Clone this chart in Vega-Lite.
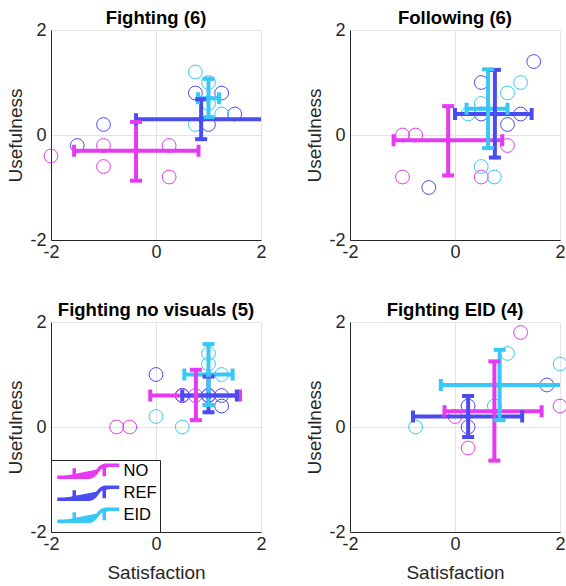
{
  "$schema": "https://vega.github.io/schema/vega-lite/v6.json",
  "padding": {"left": 6, "top": 8, "right": 5, "bottom": 0},
  "config": {
    "font": "Liberation Sans",
    "view": {"stroke": null},
    "legend": {"labelFontSize": 16.5, "labelColor": "#000000", "strokeColor": "#262626", "fillColor": "white", "padding": 3, "symbolType": "M-1,1.2H5.4C7,1.2 7,-1.2 8.6,-1.2H11.4M2.4,-0.6V1.2M8.4,-1.2V1", "symbolSize": 100, "symbolStrokeWidth": 3.5, "labelOffset": 53, "rowPadding": -6, "orient": "bottom-left", "offset": 0, "title": null, "cornerRadius": 0}
  },
  "datasets": {
    "pts": [
      {"panel": "A", "grp": "NO", "sat": -2, "use": -0.4},
      {"panel": "A", "grp": "NO", "sat": -1, "use": -0.2},
      {"panel": "A", "grp": "NO", "sat": -1, "use": -0.6},
      {"panel": "A", "grp": "NO", "sat": 0.25, "use": -0.2},
      {"panel": "A", "grp": "NO", "sat": 0.25, "use": -0.8},
      {"panel": "A", "grp": "REF", "sat": -1.5, "use": -0.2},
      {"panel": "A", "grp": "REF", "sat": -1, "use": 0.2},
      {"panel": "A", "grp": "REF", "sat": 0.75, "use": 0.8},
      {"panel": "A", "grp": "REF", "sat": 1.25, "use": 0.8},
      {"panel": "A", "grp": "REF", "sat": 1.5, "use": 0.4},
      {"panel": "A", "grp": "REF", "sat": 1, "use": 0.2},
      {"panel": "A", "grp": "EID", "sat": 0.75, "use": 1.2},
      {"panel": "A", "grp": "EID", "sat": 0.75, "use": 0.2},
      {"panel": "A", "grp": "EID", "sat": 1.25, "use": 0.4},
      {"panel": "A", "grp": "EID", "sat": 1, "use": 1},
      {"panel": "A", "grp": "EID", "sat": 1, "use": 0.6},
      {"panel": "B", "grp": "NO", "sat": -1, "use": 0},
      {"panel": "B", "grp": "NO", "sat": -0.75, "use": 0},
      {"panel": "B", "grp": "NO", "sat": -1, "use": -0.8},
      {"panel": "B", "grp": "NO", "sat": 0.5, "use": -0.8},
      {"panel": "B", "grp": "NO", "sat": 1, "use": -0.2},
      {"panel": "B", "grp": "REF", "sat": 0.5, "use": 1},
      {"panel": "B", "grp": "REF", "sat": 1.5, "use": 1.4},
      {"panel": "B", "grp": "REF", "sat": 0.5, "use": 0.4},
      {"panel": "B", "grp": "REF", "sat": 1.25, "use": 0.4},
      {"panel": "B", "grp": "REF", "sat": 1, "use": 0.2},
      {"panel": "B", "grp": "REF", "sat": -0.5, "use": -1},
      {"panel": "B", "grp": "EID", "sat": 0.25, "use": 0.4},
      {"panel": "B", "grp": "EID", "sat": 0.5, "use": 0.6},
      {"panel": "B", "grp": "EID", "sat": 1, "use": 0.8},
      {"panel": "B", "grp": "EID", "sat": 1.25, "use": 1},
      {"panel": "B", "grp": "EID", "sat": 0.5, "use": -0.6},
      {"panel": "B", "grp": "EID", "sat": 0.75, "use": -0.8},
      {"panel": "C", "grp": "NO", "sat": -0.75, "use": 0},
      {"panel": "C", "grp": "NO", "sat": -0.5, "use": 0},
      {"panel": "C", "grp": "NO", "sat": 0.5, "use": 0.6},
      {"panel": "C", "grp": "NO", "sat": 0.75, "use": 0.6},
      {"panel": "C", "grp": "NO", "sat": 1, "use": 0.6},
      {"panel": "C", "grp": "REF", "sat": 0, "use": 1},
      {"panel": "C", "grp": "REF", "sat": 0.5, "use": 0.6},
      {"panel": "C", "grp": "REF", "sat": 1, "use": 0.6},
      {"panel": "C", "grp": "REF", "sat": 1.25, "use": 0.6},
      {"panel": "C", "grp": "REF", "sat": 1.25, "use": 0.4},
      {"panel": "C", "grp": "EID", "sat": 1, "use": 1.4},
      {"panel": "C", "grp": "EID", "sat": 1, "use": 1.2},
      {"panel": "C", "grp": "EID", "sat": 1.25, "use": 1},
      {"panel": "C", "grp": "EID", "sat": 0, "use": 0.2},
      {"panel": "C", "grp": "EID", "sat": 0.5, "use": 0},
      {"panel": "D", "grp": "NO", "sat": 1.25, "use": 1.8},
      {"panel": "D", "grp": "NO", "sat": 0, "use": 0.2},
      {"panel": "D", "grp": "NO", "sat": 0.25, "use": -0.4},
      {"panel": "D", "grp": "NO", "sat": 2, "use": 0.4},
      {"panel": "D", "grp": "REF", "sat": 0.25, "use": 0.4},
      {"panel": "D", "grp": "REF", "sat": 0.25, "use": 0},
      {"panel": "D", "grp": "REF", "sat": 1.75, "use": 0.8},
      {"panel": "D", "grp": "EID", "sat": -0.75, "use": 0},
      {"panel": "D", "grp": "EID", "sat": 1, "use": 1.4},
      {"panel": "D", "grp": "EID", "sat": 2, "use": 1.2},
      {"panel": "D", "grp": "EID", "sat": 0.75, "use": 0.4}
    ],
    "means": [
      {"panel": "A", "grp": "NO", "sat": -0.38, "satLo": -1.56, "satHi": 0.81, "use": -0.3, "useLo": -0.87, "useHi": 0.25},
      {"panel": "A", "grp": "REF", "sat": 0.86, "satLo": -0.38, "satHi": 2.1, "use": 0.3, "useLo": -0.08, "useHi": 0.68},
      {"panel": "A", "grp": "EID", "sat": 1.0, "satLo": 0.8, "satHi": 1.2, "use": 0.7, "useLo": 0.34, "useHi": 1.07},
      {"panel": "B", "grp": "NO", "sat": -0.13, "satLo": -1.17, "satHi": 0.9, "use": -0.1, "useLo": -0.77, "useHi": 0.55},
      {"panel": "B", "grp": "REF", "sat": 0.76, "satLo": 0.0, "satHi": 1.46, "use": 0.4, "useLo": -0.43, "useHi": 1.24},
      {"panel": "B", "grp": "EID", "sat": 0.63, "satLo": 0.22, "satHi": 1.0, "use": 0.5, "useLo": -0.25, "useHi": 1.25},
      {"panel": "C", "grp": "NO", "sat": 0.76, "satLo": -0.11, "satHi": 1.6, "use": 0.6, "useLo": 0.13, "useHi": 1.09},
      {"panel": "C", "grp": "REF", "sat": 1.0, "satLo": 0.5, "satHi": 1.54, "use": 0.6, "useLo": 0.28, "useHi": 0.96},
      {"panel": "C", "grp": "EID", "sat": 1.0, "satLo": 0.54, "satHi": 1.46, "use": 1.0, "useLo": 0.42, "useHi": 1.58},
      {"panel": "D", "grp": "NO", "sat": 0.75, "satLo": -0.2, "satHi": 1.65, "use": 0.3, "useLo": -0.64, "useHi": 1.25},
      {"panel": "D", "grp": "REF", "sat": 0.25, "satLo": -0.8, "satHi": 1.28, "use": 0.2, "useLo": -0.19, "useHi": 0.59},
      {"panel": "D", "grp": "EID", "sat": 0.85, "satLo": -0.27, "satHi": 2.05, "use": 0.8, "useLo": 0.13, "useHi": 1.47}
    ]
  },
  "columns": 2,
  "spacing": {"row": 82, "column": 89},
  "bounds": "flush",
  "resolve": {"scale": {"color": "independent"}, "legend": {"color": "independent"}},
  "concat": [
    {
      "width": 210, "height": 210,
      "title": {"text": "Fighting (6)", "fontSize": 18.5, "fontWeight": "bold", "color": "#000000", "offset": -6, "anchor": "middle", "frame": "group"},
      "layer": [
        {"data": {"name": "pts"}, "transform": [{"filter": "datum.panel === 'A'"}],
         "mark": {"type": "point", "shape": "circle", "filled": false, "size": 190, "strokeWidth": 1, "opacity": 1},
         "encoding": {
           "x": {"field": "sat", "type": "quantitative", "scale": {"domain": [-2, 2], "nice": false, "zero": false}, "axis": {"title": null, "values": [-2, 0, 2], "labelExpr": "'' + datum.value", "grid": true, "gridColor": "#e3e3e3", "domainColor": "#262626", "ticks": false, "labelFontSize": 18, "labelColor": "#262626", "labelPadding": 3, "labelFlush": false}},
           "y": {"field": "use", "type": "quantitative", "scale": {"domain": [-2, 2], "nice": false, "zero": false}, "axis": {"title": "Usefulness", "values": [-2, 0, 2], "labelExpr": "'' + datum.value", "grid": true, "gridColor": "#e3e3e3", "domainColor": "#262626", "ticks": false, "labelFontSize": 18, "labelColor": "#262626", "labelPadding": 5, "labelFlush": false, "titleFontSize": 19, "titleFontWeight": "normal", "titleColor": "#262626", "titlePadding": 4}},
           "color": {"field": "grp", "type": "nominal", "scale": {"domain": ["NO", "REF", "EID"], "range": ["#e63af2", "#4b4bf2", "#38c8f7"]}, "legend": null}}},
        {"data": {"name": "means"}, "transform": [{"filter": "datum.panel === 'A'"}],
         "layer": [
           {"mark": {"type": "rule", "strokeWidth": 4, "clip": true}, "encoding": {"x": {"field": "satLo", "type": "quantitative"}, "x2": {"field": "satHi"}, "y": {"field": "use", "type": "quantitative"}}},
           {"mark": {"type": "rule", "strokeWidth": 4, "clip": true}, "encoding": {"x": {"field": "sat", "type": "quantitative"}, "y": {"field": "useLo", "type": "quantitative"}, "y2": {"field": "useHi"}}},
           {"transform": [{"fold": ["satLo", "satHi"], "as": ["k", "sv"]}], "mark": {"type": "tick", "orient": "vertical", "thickness": 4, "size": 12, "opacity": 1, "clip": true}, "encoding": {"x": {"field": "sv", "type": "quantitative"}, "y": {"field": "use", "type": "quantitative"}}},
           {"transform": [{"fold": ["useLo", "useHi"], "as": ["k", "uv"]}], "mark": {"type": "tick", "orient": "horizontal", "thickness": 4, "size": 12, "opacity": 1, "clip": true}, "encoding": {"x": {"field": "sat", "type": "quantitative"}, "y": {"field": "uv", "type": "quantitative"}}},
           {"mark": {"type": "point", "shape": "cross", "angle": 45, "size": 40, "filled": true, "opacity": 1}, "encoding": {"x": {"field": "sat", "type": "quantitative"}, "y": {"field": "use", "type": "quantitative"}}}
         ],
         "encoding": {"color": {"field": "grp", "type": "nominal", "legend": null}}}
      ]
    },
    {
      "width": 210, "height": 210,
      "title": {"text": "Following (6)", "fontSize": 18.5, "fontWeight": "bold", "color": "#000000", "offset": -6, "anchor": "middle", "frame": "group"},
      "layer": [
        {"data": {"name": "pts"}, "transform": [{"filter": "datum.panel === 'B'"}],
         "mark": {"type": "point", "shape": "circle", "filled": false, "size": 190, "strokeWidth": 1, "opacity": 1},
         "encoding": {
           "x": {"field": "sat", "type": "quantitative", "scale": {"domain": [-2, 2], "nice": false, "zero": false}, "axis": {"title": null, "values": [-2, 0, 2], "labelExpr": "'' + datum.value", "grid": true, "gridColor": "#e3e3e3", "domainColor": "#262626", "ticks": false, "labelFontSize": 18, "labelColor": "#262626", "labelPadding": 3, "labelFlush": false}},
           "y": {"field": "use", "type": "quantitative", "scale": {"domain": [-2, 2], "nice": false, "zero": false}, "axis": {"title": "Usefulness", "values": [-2, 0, 2], "labelExpr": "'' + datum.value", "grid": true, "gridColor": "#e3e3e3", "domainColor": "#262626", "ticks": false, "labelFontSize": 18, "labelColor": "#262626", "labelPadding": 5, "labelFlush": false, "titleFontSize": 19, "titleFontWeight": "normal", "titleColor": "#262626", "titlePadding": 4}},
           "color": {"field": "grp", "type": "nominal", "scale": {"domain": ["NO", "REF", "EID"], "range": ["#e63af2", "#4b4bf2", "#38c8f7"]}, "legend": null}}},
        {"data": {"name": "means"}, "transform": [{"filter": "datum.panel === 'B'"}],
         "layer": [
           {"mark": {"type": "rule", "strokeWidth": 4, "clip": true}, "encoding": {"x": {"field": "satLo", "type": "quantitative"}, "x2": {"field": "satHi"}, "y": {"field": "use", "type": "quantitative"}}},
           {"mark": {"type": "rule", "strokeWidth": 4, "clip": true}, "encoding": {"x": {"field": "sat", "type": "quantitative"}, "y": {"field": "useLo", "type": "quantitative"}, "y2": {"field": "useHi"}}},
           {"transform": [{"fold": ["satLo", "satHi"], "as": ["k", "sv"]}], "mark": {"type": "tick", "orient": "vertical", "thickness": 4, "size": 12, "opacity": 1, "clip": true}, "encoding": {"x": {"field": "sv", "type": "quantitative"}, "y": {"field": "use", "type": "quantitative"}}},
           {"transform": [{"fold": ["useLo", "useHi"], "as": ["k", "uv"]}], "mark": {"type": "tick", "orient": "horizontal", "thickness": 4, "size": 12, "opacity": 1, "clip": true}, "encoding": {"x": {"field": "sat", "type": "quantitative"}, "y": {"field": "uv", "type": "quantitative"}}},
           {"mark": {"type": "point", "shape": "cross", "angle": 45, "size": 40, "filled": true, "opacity": 1}, "encoding": {"x": {"field": "sat", "type": "quantitative"}, "y": {"field": "use", "type": "quantitative"}}}
         ],
         "encoding": {"color": {"field": "grp", "type": "nominal", "legend": null}}}
      ]
    },
    {
      "width": 210, "height": 210,
      "title": {"text": "Fighting no visuals (5)", "fontSize": 18.5, "fontWeight": "bold", "color": "#000000", "offset": -6, "anchor": "middle", "frame": "group"},
      "layer": [
        {"data": {"name": "pts"}, "transform": [{"filter": "datum.panel === 'C'"}],
         "mark": {"type": "point", "shape": "circle", "filled": false, "size": 190, "strokeWidth": 1, "opacity": 1},
         "encoding": {
           "x": {"field": "sat", "type": "quantitative", "scale": {"domain": [-2, 2], "nice": false, "zero": false}, "axis": {"title": "Satisfaction", "values": [-2, 0, 2], "labelExpr": "'' + datum.value", "grid": true, "gridColor": "#e3e3e3", "domainColor": "#262626", "ticks": false, "labelFontSize": 18, "labelColor": "#262626", "labelPadding": 3, "labelFlush": false, "titleFontSize": 19, "titleFontWeight": "normal", "titleColor": "#262626", "titlePadding": 10}},
           "y": {"field": "use", "type": "quantitative", "scale": {"domain": [-2, 2], "nice": false, "zero": false}, "axis": {"title": "Usefulness", "values": [-2, 0, 2], "labelExpr": "'' + datum.value", "grid": true, "gridColor": "#e3e3e3", "domainColor": "#262626", "ticks": false, "labelFontSize": 18, "labelColor": "#262626", "labelPadding": 5, "labelFlush": false, "titleFontSize": 19, "titleFontWeight": "normal", "titleColor": "#262626", "titlePadding": 4}},
           "color": {"field": "grp", "type": "nominal", "scale": {"domain": ["NO", "REF", "EID"], "range": ["#e63af2", "#4b4bf2", "#38c8f7"]}, "legend": {"symbolFillColor": "transparent", "labelFontSize": 16.5, "labelColor": "#000000"}}}},
        {"data": {"name": "means"}, "transform": [{"filter": "datum.panel === 'C'"}],
         "layer": [
           {"mark": {"type": "rule", "strokeWidth": 4, "clip": true}, "encoding": {"x": {"field": "satLo", "type": "quantitative"}, "x2": {"field": "satHi"}, "y": {"field": "use", "type": "quantitative"}}},
           {"mark": {"type": "rule", "strokeWidth": 4, "clip": true}, "encoding": {"x": {"field": "sat", "type": "quantitative"}, "y": {"field": "useLo", "type": "quantitative"}, "y2": {"field": "useHi"}}},
           {"transform": [{"fold": ["satLo", "satHi"], "as": ["k", "sv"]}], "mark": {"type": "tick", "orient": "vertical", "thickness": 4, "size": 12, "opacity": 1, "clip": true}, "encoding": {"x": {"field": "sv", "type": "quantitative"}, "y": {"field": "use", "type": "quantitative"}}},
           {"transform": [{"fold": ["useLo", "useHi"], "as": ["k", "uv"]}], "mark": {"type": "tick", "orient": "horizontal", "thickness": 4, "size": 12, "opacity": 1, "clip": true}, "encoding": {"x": {"field": "sat", "type": "quantitative"}, "y": {"field": "uv", "type": "quantitative"}}},
           {"mark": {"type": "point", "shape": "cross", "angle": 45, "size": 40, "filled": true, "opacity": 1}, "encoding": {"x": {"field": "sat", "type": "quantitative"}, "y": {"field": "use", "type": "quantitative"}}}
         ],
         "encoding": {"color": {"field": "grp", "type": "nominal"}}}
      ]
    },
    {
      "width": 210, "height": 210,
      "title": {"text": "Fighting EID (4)", "fontSize": 18.5, "fontWeight": "bold", "color": "#000000", "offset": -6, "anchor": "middle", "frame": "group"},
      "layer": [
        {"data": {"name": "pts"}, "transform": [{"filter": "datum.panel === 'D'"}],
         "mark": {"type": "point", "shape": "circle", "filled": false, "size": 190, "strokeWidth": 1, "opacity": 1},
         "encoding": {
           "x": {"field": "sat", "type": "quantitative", "scale": {"domain": [-2, 2], "nice": false, "zero": false}, "axis": {"title": "Satisfaction", "values": [-2, 0, 2], "labelExpr": "'' + datum.value", "grid": true, "gridColor": "#e3e3e3", "domainColor": "#262626", "ticks": false, "labelFontSize": 18, "labelColor": "#262626", "labelPadding": 3, "labelFlush": false, "titleFontSize": 19, "titleFontWeight": "normal", "titleColor": "#262626", "titlePadding": 10}},
           "y": {"field": "use", "type": "quantitative", "scale": {"domain": [-2, 2], "nice": false, "zero": false}, "axis": {"title": "Usefulness", "values": [-2, 0, 2], "labelExpr": "'' + datum.value", "grid": true, "gridColor": "#e3e3e3", "domainColor": "#262626", "ticks": false, "labelFontSize": 18, "labelColor": "#262626", "labelPadding": 5, "labelFlush": false, "titleFontSize": 19, "titleFontWeight": "normal", "titleColor": "#262626", "titlePadding": 4}},
           "color": {"field": "grp", "type": "nominal", "scale": {"domain": ["NO", "REF", "EID"], "range": ["#e63af2", "#4b4bf2", "#38c8f7"]}, "legend": null}}},
        {"data": {"name": "means"}, "transform": [{"filter": "datum.panel === 'D'"}],
         "layer": [
           {"mark": {"type": "rule", "strokeWidth": 4, "clip": true}, "encoding": {"x": {"field": "satLo", "type": "quantitative"}, "x2": {"field": "satHi"}, "y": {"field": "use", "type": "quantitative"}}},
           {"mark": {"type": "rule", "strokeWidth": 4, "clip": true}, "encoding": {"x": {"field": "sat", "type": "quantitative"}, "y": {"field": "useLo", "type": "quantitative"}, "y2": {"field": "useHi"}}},
           {"transform": [{"fold": ["satLo", "satHi"], "as": ["k", "sv"]}], "mark": {"type": "tick", "orient": "vertical", "thickness": 4, "size": 12, "opacity": 1, "clip": true}, "encoding": {"x": {"field": "sv", "type": "quantitative"}, "y": {"field": "use", "type": "quantitative"}}},
           {"transform": [{"fold": ["useLo", "useHi"], "as": ["k", "uv"]}], "mark": {"type": "tick", "orient": "horizontal", "thickness": 4, "size": 12, "opacity": 1, "clip": true}, "encoding": {"x": {"field": "sat", "type": "quantitative"}, "y": {"field": "uv", "type": "quantitative"}}},
           {"mark": {"type": "point", "shape": "cross", "angle": 45, "size": 40, "filled": true, "opacity": 1}, "encoding": {"x": {"field": "sat", "type": "quantitative"}, "y": {"field": "use", "type": "quantitative"}}}
         ],
         "encoding": {"color": {"field": "grp", "type": "nominal", "legend": null}}}
      ]
    }
  ]
}
